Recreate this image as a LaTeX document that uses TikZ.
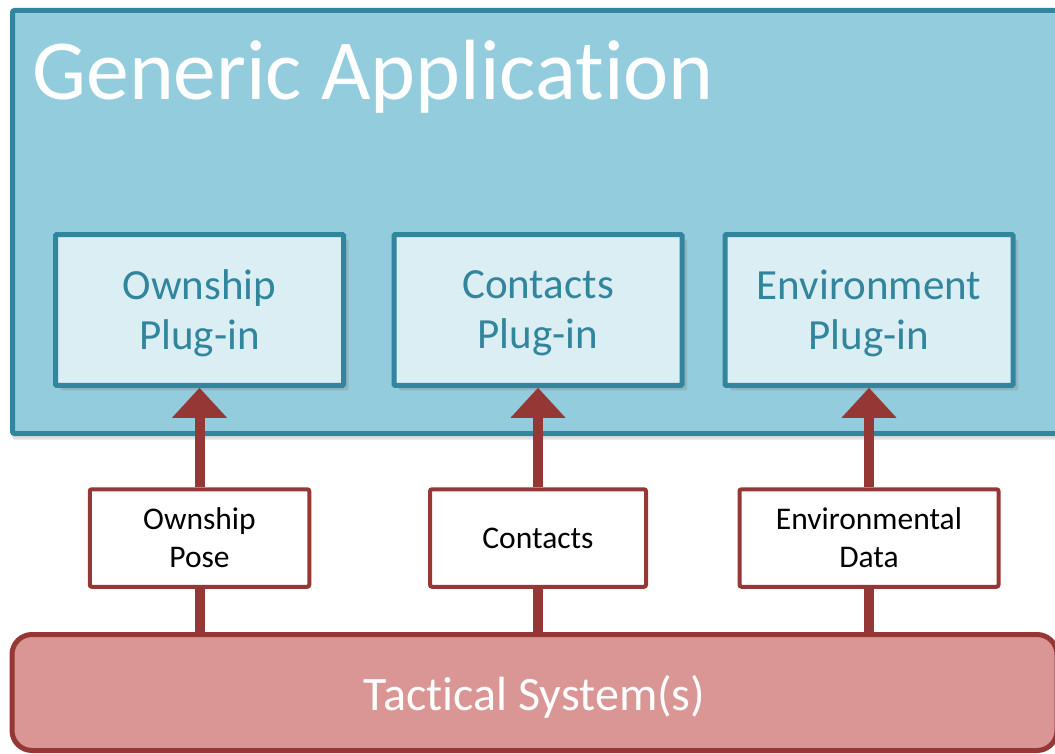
\documentclass[tikz,border=0pt]{standalone}
\usepackage{fontspec}
\setmainfont{Carlito}[Ligatures={NoCommon}]
\usetikzlibrary{arrows.meta, positioning, shadows}
\definecolor{tealline}{HTML}{31859C}
\definecolor{appfill}{HTML}{93CDDD}
\definecolor{plugfill}{HTML}{DBEEF4}
\definecolor{linkred}{HTML}{953735}
\definecolor{tacfill}{HTML}{D99694}
\tikzset{
  app/.style      = {draw=tealline, fill=appfill, line width=5pt, rounded corners=2pt,
                     drop shadow={shadow xshift=0pt, shadow yshift=-6pt, opacity=0.25}},
  plugin/.style   = {draw=tealline, fill=plugfill, line width=5pt, rounded corners=1pt,
                     align=center, text=tealline, font=\fontsize{43}{50}\selectfont,
                     text depth=0pt,
                     minimum width=288pt, minimum height=150.5pt,
                     drop shadow={shadow xshift=5pt, shadow yshift=-5pt, opacity=0.3}},
  tag/.style      = {draw=linkred, fill=white, line width=4pt, rounded corners=2pt,
                     align=center, font=\fontsize{31.5}{38}\selectfont,
                     text depth=-5pt, minimum height=97.5pt},
  tactical/.style = {draw=linkred, fill=tacfill, line width=5pt, rounded corners=20pt,
                     text=white, font=\fontsize{48}{50}\selectfont, text height=44pt},
  link/.style     = {draw=linkred, line width=10pt},
  arr/.style      = {link, -{Triangle[length=30pt, width=53pt]}}
}

\begin{document}
\begin{tikzpicture}[x=1pt, y=-1pt]
  \useasboundingbox (0,0) rectangle (1055,754);

  % ── Generic application (container) ───────────────────────────────────────
  \node[app, anchor=north west, minimum width=1070pt, minimum height=423pt]
        (app) at (10,8) {};
  \node[anchor=base west, text=white, font=\fontsize{85.5}{90}\selectfont]
        (ttl) at (29,100) {Generic Application};

  % ── Plug-ins ──────────────────────────────────────────────────────────────
  \node[plugin] (own) at (199.5,310) {Ownship\\ Plug-in};
  \node[plugin] (con) at (538,310)   {Contacts\\ Plug-in};
  \node[plugin] (env) at (869,310)   {Environment\\ Plug-in};

  % ── Tactical system(s) ────────────────────────────────────────────────────
  \node[tactical, anchor=north west, minimum width=1045pt, minimum height=116pt]
        (tac) at (9.5,632) {Tactical System(s)};

  % ── Data passed up ────────────────────────────────────────────────────────
  \node[tag, minimum width=219.5pt] (pose) at (199.5,538) {Ownship\\ Pose};
  \node[tag, minimum width=216pt]   (cts)  at (538,538)   {Contacts};
  \node[tag, minimum width=259pt]   (envd) at (869,538)   {Environmental\\ Data};

  % ── Connections ───────────────────────────────────────────────────────────
  \draw[link] (pose.south) -- (pose.south |- tac.north);
  \draw[link] (cts.south)  -- (cts.south |- tac.north);
  \draw[link] (envd.south) -- (envd.south |- tac.north);

  \draw[arr] (pose) -- (own);
  \draw[arr] (cts)  -- (con);
  \draw[arr] (envd) -- (env);

\end{tikzpicture}
\end{document}
